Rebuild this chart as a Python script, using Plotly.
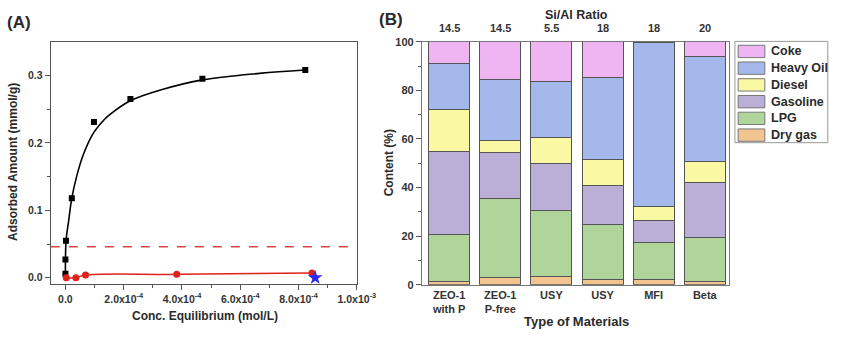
import plotly.graph_objects as go

# ---------------- Panel A data ----------------
sq_x = [0.0, 0.0, 2e-6, 2.2e-5, 9.8e-5, 2.23e-4, 4.7e-4, 8.23e-4]
sq_y = [0.006, 0.027, 0.055, 0.118, 0.231, 0.265, 0.295, 0.308]
fit_x = [0.0, 2.3e-6, 1.1e-5, 2.2e-5, 3.9e-5, 6.1e-5, 9.4e-5, 1.28e-4, 1.5e-4,
         2.21e-4, 3.32e-4, 4.66e-4, 6.66e-4, 8.21e-4]
fit_y = [0.0, 0.055, 0.084, 0.118, 0.151, 0.182, 0.213, 0.232, 0.241,
         0.262, 0.279, 0.293, 0.303, 0.308]
red_x = [3e-6, 3.6e-5, 6.9e-5, 3.82e-4, 8.46e-4]
red_y = [0.0, 0.0, 0.004, 0.005, 0.007]
star_x = [8.57e-4]
star_y = [0.0]
dash_x = [-5e-5, 9.7e-4]
dash_level = 0.046
xA_tickvals = [0, 2e-4, 4e-4, 6e-4, 8e-4, 1e-3]
xA_ticktext = ["0.0", "2.0x10<sup>-4</sup>", "4.0x10<sup>-4</sup>",
               "6.0x10<sup>-4</sup>", "8.0x10<sup>-4</sup>", "1.0x10<sup>-3</sup>"]

# ---------------- Panel B data ----------------
materials = ["ZEO-1<br>with P", "ZEO-1<br>P-free", "USY", "USY", "MFI", "Beta"]
si_al = ["14.5", "14.5", "5.5", "18", "18", "20"]
dry_gas = [1.5, 2.8, 3.5, 2.3, 2.1, 1.2]
lpg = [19.0, 32.5, 27.1, 22.4, 15.3, 18.3]
gasoline = [34.4, 19.2, 19.3, 16.1, 9.2, 22.6]
diesel = [17.3, 5.0, 10.8, 10.7, 5.7, 8.7]
heavy_oil = [18.9, 25.1, 22.8, 33.6, 67.2, 43.0]
coke = [8.9, 15.4, 16.5, 14.9, 0.5, 6.2]

series = [("Dry gas", dry_gas, "#F2C490"),
          ("LPG", lpg, "#AFD59B"),
          ("Gasoline", gasoline, "#BBAED7"),
          ("Diesel", diesel, "#FAF8A2"),
          ("Heavy Oil", heavy_oil, "#A5B8EC"),
          ("Coke", coke, "#EEB5F2")]

W, H = 851, 339
FONT = "Liberation Sans"
TXT = "#2a2a2a"
AX = "#555555"

fig = go.Figure()

# Panel A traces
fig.add_trace(go.Scatter(x=fit_x, y=fit_y, mode="lines", line=dict(color="black", width=1.6, shape="spline"),
                         xaxis="x", yaxis="y", showlegend=False))
fig.add_trace(go.Scatter(x=sq_x, y=sq_y, mode="markers", marker=dict(symbol="square", size=6, color="black"),
                         xaxis="x", yaxis="y", showlegend=False))
fig.add_trace(go.Scatter(x=dash_x, y=[dash_level, dash_level], mode="lines",
                         line=dict(color="#D9463F", width=1.5, dash="dash"),
                         xaxis="x", yaxis="y", showlegend=False))
fig.add_trace(go.Scatter(x=red_x, y=red_y, mode="lines+markers",
                         line=dict(color="#E0201B", width=1.5, shape="spline"),
                         marker=dict(symbol="circle", size=7, color="#E0201B"),
                         xaxis="x", yaxis="y", showlegend=False))
fig.add_trace(go.Scatter(x=star_x, y=star_y, mode="markers",
                         marker=dict(symbol="star", size=11, color="#2B2BE8"),
                         xaxis="x", yaxis="y", showlegend=False))

# Panel B traces
xpos = list(range(len(materials)))
for name, vals, col in series:
    fig.add_trace(go.Bar(x=xpos, y=vals, name=name, marker=dict(color=col, line=dict(color="#555555", width=1)),
                         xaxis="x2", yaxis="y2", showlegend=False))

def px_x(p):
    return p / W

def px_y(p):
    return 1 - p / H

tickfont = dict(family=FONT, size=10.5, color="#333333", weight="bold")

fig.update_layout(
    width=W, height=H, margin=dict(l=0, r=0, t=0, b=0),
    paper_bgcolor="white", plot_bgcolor="white",
    barmode="stack", bargap=0.2,
    font=dict(family=FONT, color=TXT),
    xaxis=dict(domain=[px_x(52), px_x(365)], range=[-5e-5, 1e-3], tickmode="array", anchor="y",
               tickvals=xA_tickvals, ticktext=xA_ticktext, tickfont=tickfont,
               showline=True, linecolor=AX, linewidth=1.3, mirror=True,
               ticks="outside", ticklen=5, tickcolor=AX, showgrid=False, zeroline=False,
               minor=dict(tickmode="array", tickvals=[1e-4, 3e-4, 5e-4, 7e-4, 9e-4],
                          ticks="outside", ticklen=3, tickcolor=AX, showgrid=False)),
    yaxis=dict(domain=[px_y(288), px_y(37)], range=[-0.009, 0.35], tickmode="array", anchor="x",
               tickvals=[0, 0.1, 0.2, 0.3], ticktext=["0.0", "0.1", "0.2", "0.3"], tickfont=tickfont,
               showline=True, linecolor=AX, linewidth=1.3, mirror=True,
               ticks="outside", ticklen=5, tickcolor=AX, showgrid=False, zeroline=False,
               minor=dict(tickmode="array", tickvals=[0.05, 0.15, 0.25],
                          ticks="outside", ticklen=3, tickcolor=AX, showgrid=False)),
    xaxis2=dict(domain=[px_x(431.7), px_x(746)], range=[-0.53, 5.48], tickmode="array", anchor="y2",
                tickvals=xpos, ticktext=materials, tickfont=dict(family=FONT, size=11, color="#333333", weight="bold"),
                showline=True, linecolor="#777777", linewidth=1.3, mirror=True,
                ticks="", showgrid=False, zeroline=False),
    yaxis2=dict(domain=[px_y(289), px_y(37)], range=[0, 100], tickmode="array", anchor="x2",
                tickvals=[0, 20, 40, 60, 80, 100], tickfont=dict(family=FONT, size=11, color="#333333", weight="bold"),
                showline=True, linecolor="#777777", linewidth=1.3, mirror=True,
                ticks="outside", ticklen=5, tickcolor=AX, showgrid=False, zeroline=False,
                minor=dict(tickmode="array", tickvals=[10, 30, 50, 70, 90],
                           ticks="outside", ticklen=3, tickcolor=AX, showgrid=False)),
)

ann = []
def add_text(text, x, y, size, xanchor="center", yanchor="middle", angle=0, xref="paper", color=TXT):
    ann.append(dict(text=text, x=x, y=y, xref=xref, yref="paper", showarrow=False,
                    xanchor=xanchor, yanchor=yanchor, textangle=angle,
                    font=dict(family=FONT, size=size, color=color, weight="bold")))

add_text("(A)", px_x(5), px_y(17), 17, xanchor="left")
add_text("(B)", px_x(386), px_y(14), 17, xanchor="left")
add_text("Adsorbed Amount (mmol/g)", px_x(14), px_y(162), 12, angle=-90)
add_text("Conc. Equilibrium (mol/L)", px_x(210), px_y(321), 12)
add_text("Content (%)", px_x(398), px_y(163), 12, angle=-90)
add_text("Type of Materials", px_x(590), px_y(327), 13)
add_text("Si/Al Ratio", px_x(590), px_y(9), 12.5)
for i, r in enumerate(si_al):
    add_text(r, i, px_y(23), 11, xref="x2", color="#333333")

# custom legend
shapes = [dict(type="rect", xref="paper", yref="paper", x0=px_x(751.7), x1=px_x(846.7),
               y0=px_y(141.7), y1=px_y(36.7), line=dict(color="#999999", width=1), fillcolor="white")]
for k, (name, vals, col) in enumerate(reversed(series)):
    top = 40.7 + k * 17.35
    shapes.append(dict(type="rect", xref="paper", yref="paper", x0=px_x(755), x1=px_x(782.3),
                       y0=px_y(top + 12.8), y1=px_y(top), fillcolor=col, line=dict(color="#777777", width=1)))
    add_text(name, px_x(786.5), px_y(top + 6.4), 12.5, xanchor="left")

fig.update_layout(annotations=ann, shapes=shapes)
fig.write_html("out.html")
